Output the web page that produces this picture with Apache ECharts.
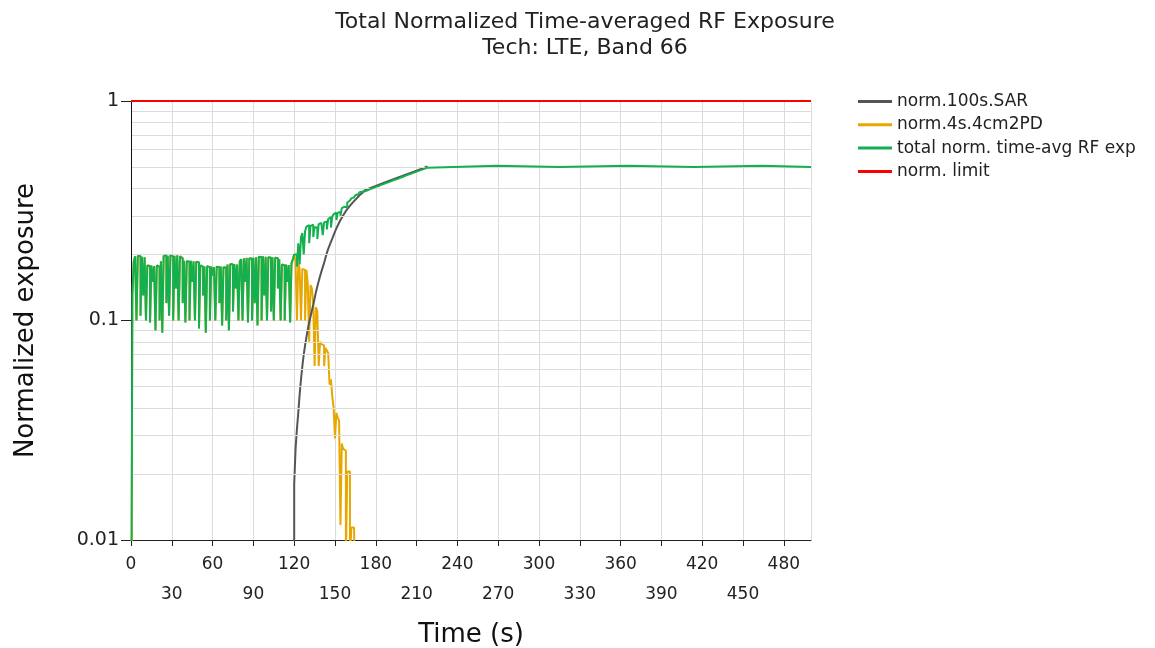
<!DOCTYPE html>
<html>
<head>
<meta charset="utf-8">
<title>Total Normalized Time-averaged RF Exposure</title>
<script src="https://cdn.jsdelivr.net/npm/echarts@6/dist/echarts.min.js"></script>
<style>
  html, body { margin: 0; padding: 0; background: #fff; }
  #main { width: 1155px; height: 648px; }
</style>
</head>
<body>
<div id="main"></div>
<script>
// shared part: before 120 s the total equals the PD exposure
var earlyTime = [
  0, 1, 2, 3, 4, 5, 6, 7, 8, 9,
  10, 11, 12, 13, 14, 15, 16, 17, 18, 19,
  20, 21, 22, 23, 24, 25, 26, 27, 28, 29,
  30, 31, 32, 33, 34, 35, 36, 37, 38, 39,
  40, 41, 42, 43, 44, 45, 46, 47, 48, 49,
  50, 51, 52, 53, 54, 55, 56, 57, 58, 59,
  60, 61, 62, 63, 64, 65, 66, 67, 68, 69,
  70, 71, 72, 73, 74, 75, 76, 77, 78, 79,
  80, 81, 82, 83, 84, 85, 86, 87, 88, 89,
  90, 91, 92, 93, 94, 95, 96, 97, 98, 99,
  100, 101, 102, 103, 104, 105, 106, 107, 108, 109,
  110, 111, 112, 113, 114, 115, 116, 117, 118, 119
];
var earlyValue = [
  0.001, 0.13, 0.185, 0.196, 0.1, 0.197, 0.196, 0.105, 0.195, 0.13,
  0.194, 0.1, 0.178, 0.177, 0.098, 0.178, 0.15, 0.177, 0.09, 0.178,
  0.176, 0.1, 0.186, 0.088, 0.197, 0.198, 0.12, 0.197, 0.105, 0.198,
  0.196, 0.1, 0.197, 0.14, 0.198, 0.1, 0.196, 0.192, 0.12, 0.187,
  0.098, 0.186, 0.185, 0.1, 0.187, 0.15, 0.186, 0.1, 0.185, 0.184,
  0.092, 0.178, 0.176, 0.13, 0.176, 0.088, 0.177, 0.175, 0.1, 0.176,
  0.16, 0.175, 0.1, 0.176, 0.175, 0.12, 0.176, 0.095, 0.175, 0.174,
  0.1, 0.18, 0.09, 0.181, 0.18, 0.11, 0.181, 0.14, 0.18, 0.1,
  0.186, 0.19, 0.1, 0.192, 0.15, 0.193, 0.098, 0.192, 0.191, 0.1,
  0.193, 0.12, 0.194, 0.095, 0.195, 0.194, 0.1, 0.196, 0.13, 0.195,
  0.1, 0.194, 0.193, 0.11, 0.194, 0.1, 0.193, 0.192, 0.14, 0.19,
  0.1, 0.18, 0.178, 0.1, 0.18, 0.15, 0.179, 0.098, 0.182, 0.19
];

// norm.4s.4cm2PD after 120 s
var pdTime = [
  120, 121, 122, 123, 124, 125, 126, 127, 128, 129,
  130, 131, 132, 133, 134, 135, 136, 137, 138, 139,
  140, 141, 142, 143, 144, 145, 146, 147, 148, 149,
  150, 151, 152, 153, 154, 155, 156, 157, 158, 159,
  160, 161, 162, 163, 164, 165
];
var pdValue = [
  0.2, 0.185, 0.1, 0.183, 0.172, 0.1, 0.172, 0.17, 0.1, 0.17,
  0.146, 0.08, 0.145, 0.14, 0.12, 0.062, 0.115, 0.11, 0.062, 0.08,
  0.078, 0.077, 0.062, 0.075, 0.073, 0.071, 0.051, 0.054, 0.045, 0.04,
  0.029, 0.038, 0.036, 0.035, 0.0117, 0.0275, 0.026, 0.0255, 0.008, 0.0205,
  0.0205, 0.008, 0.0114, 0.0114, 0.0113, 0.005
];

// norm.100s.SAR
var sarTime = [
  120, 120, 121, 122, 123, 124, 125, 126, 127, 128, 129,
  130, 131, 132, 133, 134, 135, 136, 137, 138, 139,
  140, 141, 142, 143, 144, 145, 146, 147, 148, 149,
  150, 151, 152, 153, 154, 155, 156, 157, 158, 159,
  160, 162, 164, 166, 168, 170, 172, 180, 190, 200, 210, 218
];
var sarValue = [
  0.001, 0.018, 0.026, 0.032, 0.038, 0.046, 0.054, 0.062, 0.07, 0.077, 0.084,
  0.091, 0.098, 0.104, 0.111, 0.118, 0.126, 0.135, 0.143, 0.151, 0.159,
  0.167, 0.175, 0.183, 0.193, 0.203, 0.212, 0.22, 0.228, 0.236, 0.245,
  0.254, 0.263, 0.271, 0.279, 0.287, 0.294, 0.301, 0.308, 0.315, 0.322,
  0.328, 0.339, 0.35, 0.36, 0.372, 0.381, 0.392, 0.41, 0.433, 0.457, 0.482, 0.503
];

// total norm. time-avg RF exp after 120 s
var totalTime = [
  120, 121, 122, 123, 124, 125, 126, 127, 128, 129,
  130, 131, 132, 133, 134, 135, 136, 137, 138, 139,
  140, 141, 142, 143, 144, 145, 146, 147, 148, 149,
  150, 151, 152, 153, 154, 155, 156, 157, 158, 159,
  160, 161, 162, 163, 164, 165, 166, 167, 168, 169,
  170, 172, 174, 176, 178, 180, 182, 184, 186, 188,
  190, 192, 194, 196, 198, 200, 202, 204, 206, 208,
  210, 212, 214, 216, 218, 219, 269, 315, 365, 414, 464, 500
];
var totalValue = [
  0.2, 0.2, 0.176, 0.225, 0.18, 0.24, 0.25, 0.2, 0.255, 0.268,
  0.272, 0.225, 0.27, 0.273, 0.24, 0.266, 0.265, 0.235, 0.275, 0.278,
  0.275, 0.245, 0.28, 0.283, 0.26, 0.29, 0.296, 0.265, 0.298, 0.305,
  0.31, 0.287, 0.31, 0.312, 0.3, 0.325, 0.33, 0.332, 0.328, 0.345,
  0.352, 0.356, 0.36, 0.364, 0.368, 0.372, 0.376, 0.38, 0.384, 0.386,
  0.388, 0.392, 0.397, 0.401, 0.406, 0.41, 0.415, 0.419, 0.424, 0.428,
  0.433, 0.438, 0.442, 0.447, 0.452, 0.457, 0.462, 0.467, 0.472, 0.477,
  0.482, 0.487, 0.492, 0.497, 0.503, 0.507, 0.5, 0.507, 0.5, 0.507, 0.5, 0.5
];

// norm. limit
var limitTime = [0, 500];
var limitValue = [1, 1];

// minor log grid lines
var minorGrid = [0.02, 0.03, 0.04, 0.05, 0.06, 0.07, 0.08, 0.09,
                 0.2, 0.3, 0.4, 0.5, 0.6, 0.7, 0.8, 0.9];

function pairs(t, v) {
  var out = [];
  for (var i = 0; i < t.length; i++) out.push([t[i], v[i]]);
  return out;
}

var FONT = "DejaVu Sans";
var chart = echarts.init(document.getElementById("main"));

var gridLines = minorGrid.map(function (v) { return { yAxis: v }; });
// left axis line drawn as a mark at t = 0 so it sits above the grid
gridLines.push({ xAxis: 0, lineStyle: { color: "#111", width: 1 } });

var option = {
  animation: false,
  backgroundColor: "#fff",
  title: {
    text: "Total Normalized Time-averaged RF Exposure",
    subtext: "Tech: LTE, Band 66",
    left: 580,
    top: 6,
    textAlign: "center",
    itemGap: 4,
    textStyle: { fontFamily: FONT, fontSize: 22, fontWeight: "normal", color: "#222" },
    subtextStyle: { fontFamily: FONT, fontSize: 22, color: "#222" }
  },
  legend: {
    orient: "vertical",
    left: 858,
    top: 93,
    padding: 0,
    icon: "rect",
    itemWidth: 34,
    itemHeight: 3,
    itemGap: 6.3,
    textStyle: { fontFamily: FONT, fontSize: 17, color: "#222" },
    data: ["norm.100s.SAR", "norm.4s.4cm2PD", "total norm. time-avg RF exp", "norm. limit"]
  },
  grid: { left: 131, right: 344, top: 101, bottom: 108, outerBoundsMode: "none" },
  xAxis: {
    type: "value",
    min: 0,
    max: 500,
    interval: 30,
    name: "Time (s)",
    nameLocation: "middle",
    nameGap: 82,
    nameTextStyle: { fontFamily: FONT, fontSize: 26, color: "#111" },
    axisLine: { lineStyle: { color: "#222", width: 1 } },
    axisTick: { length: 6, lineStyle: { color: "#222" } },
    axisLabel: {
      fontFamily: FONT, fontSize: 17, color: "#222", margin: 10, lineHeight: 30,
      formatter: function (v) { return v % 60 === 0 ? String(v) : "\n" + v; }
    },
    splitLine: { show: true, showMinLine: false, lineStyle: { color: "#dcdcdc", width: 1 } }
  },
  yAxis: {
    type: "log",
    logBase: 10,
    min: 0.01,
    max: 1,
    name: "Normalized exposure",
    nameLocation: "middle",
    nameGap: 92,
    nameTextStyle: { fontFamily: FONT, fontSize: 26, color: "#111" },
    axisLine: { show: true, onZero: false, lineStyle: { color: "#222", width: 1 } },
    axisTick: { show: true, length: 10, lineStyle: { color: "#222" } },
    axisLabel: { fontFamily: FONT, fontSize: 19, color: "#222", margin: 12 },
    splitLine: { show: true, showMinLine: false, lineStyle: { color: "#dcdcdc", width: 1 } }
  },
  series: [
    {
      name: "minor grid",
      type: "line",
      data: [],
      z: 1,
      silent: true,
      markLine: {
        silent: true,
        symbol: ["none", "none"],
        label: { show: false },
        lineStyle: { color: "#dcdcdc", type: "solid", width: 1 },
        data: gridLines
      }
    },
    {
      name: "norm.4s.4cm2PD",
      type: "line",
      step: "end",
      showSymbol: false,
      symbol: "none",
      z: 3,
      color: "#e6a800",
      lineStyle: { color: "#e6a800", width: 2 },
      data: pairs(earlyTime, earlyValue).concat(pairs(pdTime, pdValue))
    },
    {
      name: "norm.100s.SAR",
      type: "line",
      showSymbol: false,
      symbol: "none",
      z: 4,
      color: "#555555",
      lineStyle: { color: "#555555", width: 2 },
      data: pairs(sarTime, sarValue)
    },
    {
      name: "total norm. time-avg RF exp",
      type: "line",
      step: "end",
      showSymbol: false,
      symbol: "none",
      z: 5,
      color: "#14b050",
      lineStyle: { color: "#14b050", width: 2 },
      data: pairs(earlyTime, earlyValue).concat(pairs(totalTime, totalValue))
    },
    {
      name: "norm. limit",
      type: "line",
      showSymbol: false,
      symbol: "none",
      z: 6,
      color: "#ff0000",
      lineStyle: { color: "#ff0000", width: 2 },
      data: pairs(limitTime, limitValue)
    }
  ]
};

chart.setOption(option);
</script>
</body>
</html>
